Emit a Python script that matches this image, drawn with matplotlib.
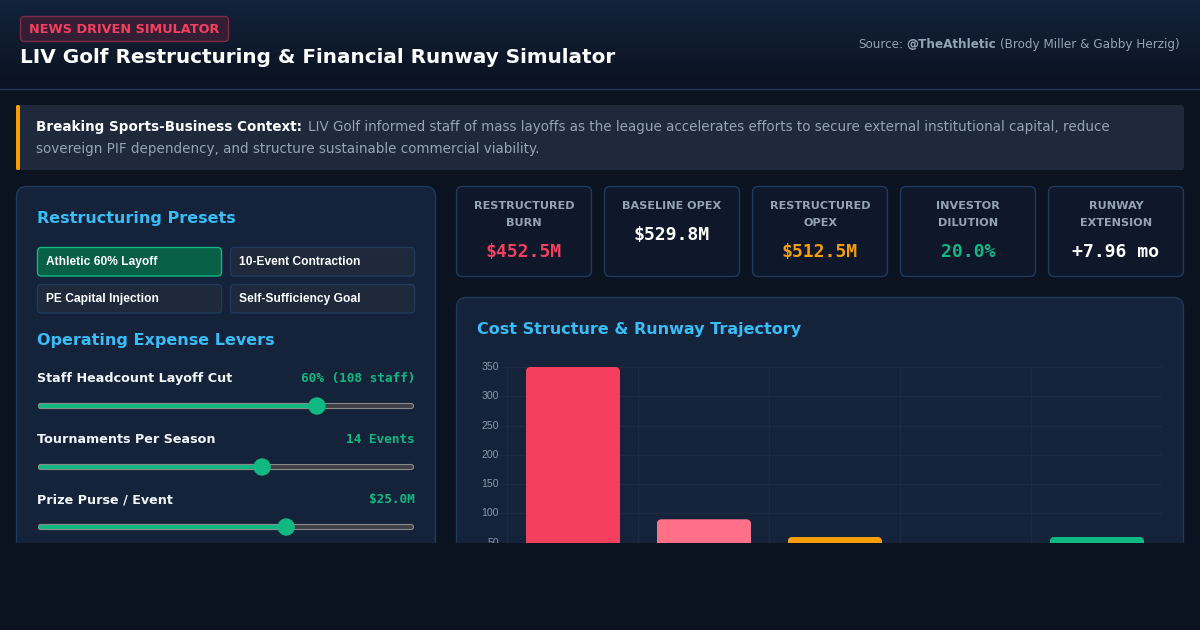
#!/usr/bin/python3
#coding: utf-8

import numpy as np
import matplotlib
matplotlib.use("Agg")
import matplotlib.pyplot as plt
from matplotlib.patches import FancyBboxPatch, Rectangle, Circle
from matplotlib.transforms import IdentityTransform, ScaledTranslation

# donnees du graphe
bar_categories = ["A", "B", "C", "D", "E"]
bar_values = [350, 90, 60, 0, 60]
bar_colors = ["#f43f5e", "#ff7088", "#f59e0b", "#3b82f6", "#10b981"]
y_ticks = [0, 50, 100, 150, 200, 250, 300, 350]

# cartes
card_titles = [["RESTRUCTURED", "BURN"], ["BASELINE OPEX"], ["RESTRUCTURED", "OPEX"],
               ["INVESTOR", "DILUTION"], ["RUNWAY", "EXTENSION"]]
card_values = ["$452.5M", "$529.8M", "$512.5M", "20.0%", "+7.96 mo"]
card_colors = ["#f43f5e", "#ffffff", "#f59e0b", "#10b981", "#ffffff"]

# boutons et curseurs
preset_names = ["Athletic 60% Layoff", "10-Event Contraction", "PE Capital Injection", "Self-Sufficiency Goal"]
lever_names = ["Staff Headcount Layoff Cut", "Tournaments Per Season", "Prize Purse / Event"]
lever_values = ["60% (108 staff)", "14 Events", "$25.0M"]
lever_fractions = [0.742, 0.596, 0.66]

BG = "#0b1220"
PANEL = "#14233a"
BORDER = "#1e3a5f"
BLUE = "#38bdf8"
GREEN = "#10b981"
GRAY = "#94a3b8"
MONO = "DejaVu Sans Mono"
W, H = 1200, 630


def px(size):
    return size * 0.72


def boite(ax, x, y, w, h, face, edge=None, r=6, lw=1, z=1):
    p = FancyBboxPatch((x, y), w, h, boxstyle="round,pad=0,rounding_size=%s" % r,
                       facecolor=face, edgecolor=edge if edge else "none", linewidth=lw, zorder=z)
    ax.add_patch(p)
    return p


fig = plt.figure(figsize=(12, 6.3), dpi=100, facecolor=BG)
fond = fig.add_axes([0, 0, 1, 1], zorder=0)
fond.set_axis_off()
renderer = fig.canvas.get_renderer()

# entete en degrade
degrade = np.linspace(0, 1, 88).reshape(-1, 1)
top = np.array(matplotlib.colors.to_rgb("#13233c"))
bottom = np.array(matplotlib.colors.to_rgb(BG))
fond.imshow(top + (bottom - top) * degrade[:, :, None], extent=[0, W, 88, 0], aspect="auto", zorder=0)
fond.set_xlim(0, W)
fond.set_ylim(H, 0)
fond.plot([0, W], [88.5, 88.5], color=BORDER, lw=1, zorder=1)

boite(fond, 20.5, 16.5, 208, 25, "#341e36", "#7f2a45", r=4)
fond.text(29, 33, "NEWS DRIVEN SIMULATOR", color="#f43f5e", fontsize=px(12.9), fontweight="bold", zorder=3)
fond.text(20, 63, "LIV Golf Restructuring & Financial Runway Simulator", color="white",
          fontsize=px(20), fontweight="bold", zorder=3)

t = fond.text(1180, 48, "(Brody Miller & Gabby Herzig)", color=GRAY, fontsize=px(12), ha="right", zorder=3)
x0 = t.get_window_extent(renderer).x0
t = fond.text(x0 - 4, 48, "@TheAthletic", color=GRAY, fontsize=px(12), fontweight="bold", ha="right", zorder=3)
x0 = t.get_window_extent(renderer).x0
fond.text(x0 - 3.5, 48, "Source:", color=GRAY, fontsize=px(12), ha="right", zorder=3)

# bandeau de contexte
boite(fond, 16, 105, 1168, 65, "#1e293b", r=3)
boite(fond, 16, 105, 4, 65, "#f59e0b", r=1.5, z=2)
t = fond.text(36, 131.5, "Breaking Sports-Business Context:", color="white", fontsize=px(13.55), fontweight="bold", zorder=3)
x1 = t.get_window_extent(renderer).x1
fond.text(x1 + 5.5, 131.5, "LIV Golf informed staff of mass layoffs as the league accelerates efforts to secure external institutional capital, reduce",
          color=GRAY, fontsize=px(13.55), zorder=3)
fond.text(36, 152.5, "sovereign PIF dependency, and structure sustainable commercial viability.",
          color=GRAY, fontsize=px(13.55), zorder=3)

# panneau de gauche
boite(fond, 16.5, 186.5, 419, 420, PANEL, BORDER, r=10)
fond.text(37, 223, "Restructuring Presets", color=BLUE, fontsize=px(16), fontweight="bold", zorder=3)
fond.text(37, 345, "Operating Expense Levers", color=BLUE, fontsize=px(16), fontweight="bold", zorder=3)

for i, nom in enumerate(preset_names):
    x = 37.5 + 193 * (i % 2)
    y = 247.5 + 37 * (i // 2)
    if i == 0:
        boite(fond, x, y, 184, 28.5, "#075f46", GREEN, r=4)
    else:
        boite(fond, x, y, 184, 28.5, "#1e293b", BORDER, r=4)
    fond.text(x + 8.5, y + 17.5, nom, color="white", fontsize=px(12), fontweight="bold",
              family="Liberation Sans", zorder=3)

for i, nom in enumerate(lever_names):
    y = [382.5, 443.5, 503.5][i]
    ys = [406, 467, 527][i]
    fond.text(37, y - 0.4, nom, color="#f1f5f9", fontsize=px(12.7), fontweight="bold", zorder=3)
    fond.text(415, y - 0.4, lever_values[i], color=GREEN, fontsize=px(12.8), family=MONO, fontweight="bold", ha="right", zorder=3)
    xt = 38 + 376 * lever_fractions[i]
    boite(fond, 38.5, ys - 2.5, 375, 5, "#3f3f46", "#8a8a8a", r=2.5, lw=0.8, z=2)
    boite(fond, 38.5, ys - 2.5, xt - 38.5, 5, GREEN, "#8a8a8a", r=2.5, lw=0.8, z=2)
    fond.add_patch(Circle((xt, ys), 8, color=GREEN, zorder=3))

# cartes du haut
for i in range(5):
    x = 456.5 + 148 * i
    boite(fond, x, 186.5, 135, 90, "#0f172a", BORDER, r=6)
    xc = x + 67.5
    for j, ligne in enumerate(card_titles[i]):
        fond.text(xc, 209 + 17 * j, ligne, color=GRAY, fontsize=px(11.2), fontweight="bold", ha="center", zorder=3)
    yv = 257.4 if len(card_titles[i]) == 2 else 240
    fond.text(xc, yv, card_values[i], color=card_colors[i], fontsize=px(18.2), family=MONO, fontweight="bold", ha="center", zorder=3)

# panneau du graphe
boite(fond, 456.5, 297.5, 727, 310, PANEL, BORDER, r=10)
fond.text(477, 334, "Cost Structure & Runway Trajectory", color=BLUE, fontsize=px(16), fontweight="bold", zorder=3)

# graphe : 350 -> y=367, 0 -> y=572
ax = fig.add_axes([507.4 / W, 1 - 572.0 / H, 655.0 / W, 205.0 / H], zorder=1)
ax.patch.set_alpha(0)
pos = range(len(bar_categories))
rects = ax.bar(pos, bar_values, width=0.72, color=bar_colors, zorder=3)
ax.set_xlim(-0.5, 4.5)
ax.set_ylim(0, 350)
ax.set_yticks(y_ticks)
ax.set_xticks([k - 0.5 for k in range(6)])
ax.set_xticklabels([])
ax.tick_params(axis="y", colors="#1d2a40", length=6, width=1, pad=0, labelsize=px(10.5), labelcolor="#8b97a8")
ax.tick_params(axis="x", length=0)
for lab in ax.get_yticklabels():
    lab.set_family("Liberation Sans")
    lab.set_transform(lab.get_transform() + ScaledTranslation(0, 0.01, fig.dpi_scale_trans))
ax.grid(True, color="#1d2a40", lw=1, zorder=0)
for s in ax.spines.values():
    s.set_visible(False)

# coins arrondis en haut des barres
for rect in rects:
    if rect.get_height() == 0:
        continue
    e = rect.get_window_extent(renderer)
    clip = FancyBboxPatch((e.x0, e.y0 - 10), e.width, e.height + 10, boxstyle="round,pad=0,rounding_size=5",
                          transform=IdentityTransform())
    rect.set_clip_path(clip)

# la capture s'arrete a y=543
masque = fig.add_axes([0, 0, 1, 1], zorder=2)
masque.set_axis_off()
masque.patch.set_alpha(0)
masque.set_xlim(0, W)
masque.set_ylim(H, 0)
masque.add_patch(Rectangle((0, 543), W, H - 543, facecolor=BG, edgecolor="none"))

fig.savefig("out.png", dpi=100, facecolor=BG)
